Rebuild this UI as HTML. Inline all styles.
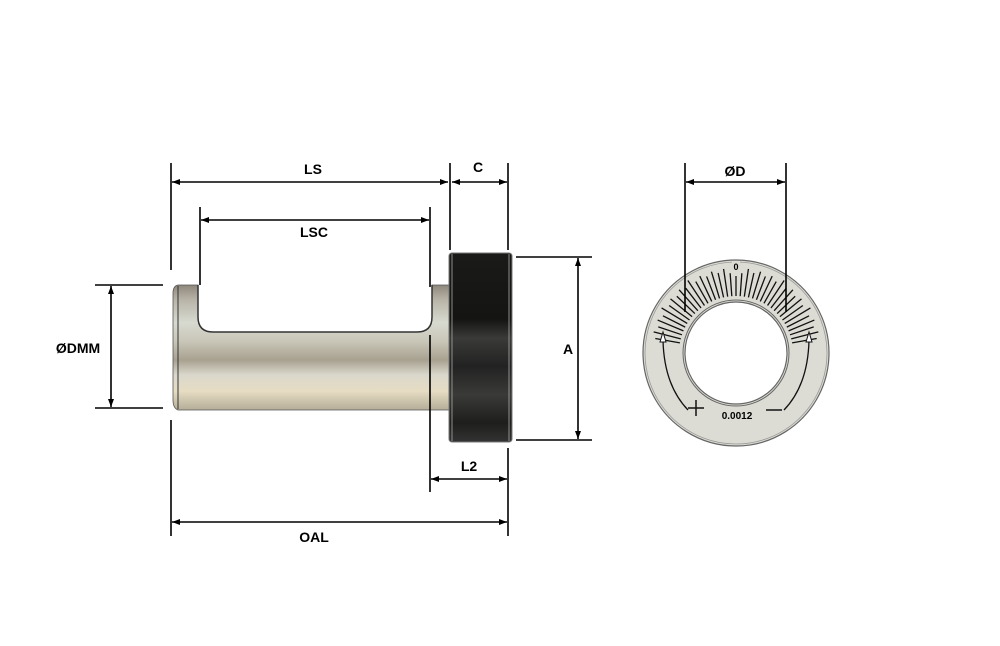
<!DOCTYPE html>
<html><head><style>html,body{margin:0;padding:0;background:#fff}svg{display:block}</style></head><body>
<svg width="1000" height="646" viewBox="0 0 1000 646" xmlns="http://www.w3.org/2000/svg" font-family="Liberation Sans, Arial, sans-serif">
<defs>
<linearGradient id="steel" x1="0" y1="0" x2="0" y2="1">
<stop offset="0" stop-color="#8d877c"/><stop offset="0.12" stop-color="#b9b4a8"/><stop offset="0.3" stop-color="#d7dad0"/><stop offset="0.45" stop-color="#c9c6b8"/><stop offset="0.6" stop-color="#a8a190"/><stop offset="0.72" stop-color="#dad8cc"/><stop offset="0.85" stop-color="#e6dcc3"/><stop offset="1" stop-color="#b5ad98"/>
</linearGradient>
<linearGradient id="knob" x1="0" y1="0" x2="0" y2="1">
<stop offset="0" stop-color="#1a1a18"/><stop offset="0.35" stop-color="#141412"/><stop offset="0.45" stop-color="#3a3a38"/><stop offset="0.6" stop-color="#222"/><stop offset="0.75" stop-color="#3a3a38"/><stop offset="0.9" stop-color="#1e1e1c"/><stop offset="1" stop-color="#333"/>
</linearGradient>
<marker id="a" markerWidth="8" markerHeight="6" refX="8" refY="3" orient="auto-start-reverse" markerUnits="userSpaceOnUse"><path d="M0,0 L8,3 L0,6 z" fill="#000"/></marker>
</defs>
<!-- shaft -->
<path d="M178,285 L198,285 L198,317 Q198,332 213,332 L417,332 Q432,332 432,317 L432,285 L449,285 L449,410 L178,410 Q173,408 173,400 L173,293 Q173,286 178,285 z" fill="url(#steel)" stroke="#555" stroke-width="0.8"/>
<line x1="178" y1="286" x2="178" y2="409" stroke="#333" stroke-width="1"/>
<path d="M198,285 L198,317 Q198,332 213,332 L417,332 Q432,332 432,317 L432,285" fill="none" stroke="#333" stroke-width="1.5"/>
<!-- knob -->
<rect x="449" y="253" width="63" height="189" rx="3" fill="url(#knob)" stroke="#777" stroke-width="1"/>
<line x1="452" y1="254" x2="452" y2="441" stroke="#aaa" stroke-width="0.8"/>
<line x1="509" y1="254" x2="509" y2="441" stroke="#aaa" stroke-width="0.8"/>
<!-- dial ring -->
<path d="M736,260 a93,93 0 1,0 0.01,0 z M736,302 a51,51 0 1,1 -0.01,0 z" fill="#dcdcd4" fill-rule="evenodd" stroke="#666" stroke-width="1.2"/>
<circle cx="736" cy="353" r="91" fill="none" stroke="#999" stroke-width="0.8"/>
<circle cx="736" cy="353" r="53" fill="none" stroke="#666" stroke-width="1"/>
<g stroke="#111" stroke-width="1.3">
<line x1="736" y1="296" x2="736" y2="271" transform="rotate(-79.8 736 353)"/>
<line x1="736" y1="296" x2="736" y2="268" transform="rotate(-75.6 736 353)"/>
<line x1="736" y1="296" x2="736" y2="271" transform="rotate(-71.4 736 353)"/>
<line x1="736" y1="296" x2="736" y2="268" transform="rotate(-67.2 736 353)"/>
<line x1="736" y1="296" x2="736" y2="271" transform="rotate(-63 736 353)"/>
<line x1="736" y1="296" x2="736" y2="266" transform="rotate(-58.8 736 353)"/>
<line x1="736" y1="296" x2="736" y2="271" transform="rotate(-54.6 736 353)"/>
<line x1="736" y1="296" x2="736" y2="268" transform="rotate(-50.4 736 353)"/>
<line x1="736" y1="296" x2="736" y2="271" transform="rotate(-46.2 736 353)"/>
<line x1="736" y1="296" x2="736" y2="268" transform="rotate(-42 736 353)"/>
<line x1="736" y1="296" x2="736" y2="271" transform="rotate(-37.8 736 353)"/>
<line x1="736" y1="296" x2="736" y2="266" transform="rotate(-33.6 736 353)"/>
<line x1="736" y1="296" x2="736" y2="271" transform="rotate(-29.4 736 353)"/>
<line x1="736" y1="296" x2="736" y2="268" transform="rotate(-25.2 736 353)"/>
<line x1="736" y1="296" x2="736" y2="271" transform="rotate(-21 736 353)"/>
<line x1="736" y1="296" x2="736" y2="268" transform="rotate(-16.8 736 353)"/>
<line x1="736" y1="296" x2="736" y2="271" transform="rotate(-12.6 736 353)"/>
<line x1="736" y1="296" x2="736" y2="268" transform="rotate(-8.4 736 353)"/>
<line x1="736" y1="296" x2="736" y2="273" transform="rotate(-4.2 736 353)"/>
<line x1="736" y1="296" x2="736" y2="276"/>
<line x1="736" y1="296" x2="736" y2="273" transform="rotate(4.2 736 353)"/>
<line x1="736" y1="296" x2="736" y2="268" transform="rotate(8.4 736 353)"/>
<line x1="736" y1="296" x2="736" y2="271" transform="rotate(12.6 736 353)"/>
<line x1="736" y1="296" x2="736" y2="268" transform="rotate(16.8 736 353)"/>
<line x1="736" y1="296" x2="736" y2="271" transform="rotate(21 736 353)"/>
<line x1="736" y1="296" x2="736" y2="268" transform="rotate(25.2 736 353)"/>
<line x1="736" y1="296" x2="736" y2="271" transform="rotate(29.4 736 353)"/>
<line x1="736" y1="296" x2="736" y2="266" transform="rotate(33.6 736 353)"/>
<line x1="736" y1="296" x2="736" y2="271" transform="rotate(37.8 736 353)"/>
<line x1="736" y1="296" x2="736" y2="268" transform="rotate(42 736 353)"/>
<line x1="736" y1="296" x2="736" y2="271" transform="rotate(46.2 736 353)"/>
<line x1="736" y1="296" x2="736" y2="268" transform="rotate(50.4 736 353)"/>
<line x1="736" y1="296" x2="736" y2="271" transform="rotate(54.6 736 353)"/>
<line x1="736" y1="296" x2="736" y2="266" transform="rotate(58.8 736 353)"/>
<line x1="736" y1="296" x2="736" y2="271" transform="rotate(63 736 353)"/>
<line x1="736" y1="296" x2="736" y2="268" transform="rotate(67.2 736 353)"/>
<line x1="736" y1="296" x2="736" y2="271" transform="rotate(71.4 736 353)"/>
<line x1="736" y1="296" x2="736" y2="268" transform="rotate(75.6 736 353)"/>
<line x1="736" y1="296" x2="736" y2="271" transform="rotate(79.8 736 353)"/>
</g>
<path d="M688,410 Q664,385 663,340" fill="none" stroke="#111" stroke-width="1.3"/>
<path d="M660,342 L663,332 L666,342 z" fill="#fff" stroke="#111"/>
<path d="M784,410 Q808,385 809,340" fill="none" stroke="#111" stroke-width="1.3"/>
<path d="M806,342 L809,332 L812,342 z" fill="#fff" stroke="#111"/>
<path d="M688,408 h16 M696,400 v16 M766,410 h16" stroke="#111" stroke-width="1.5"/>
<text x="737" y="419" font-size="10" font-weight="bold" text-anchor="middle">0.0012</text>
<rect x="732" y="261" width="8" height="10" fill="#dcdcd4"/>
<text x="736" y="270" font-size="9" font-weight="bold" text-anchor="middle">0</text>
<g stroke="#000" stroke-width="1.6" fill="none">
<line x1="171" y1="163" x2="171" y2="270"/><line x1="171" y1="420" x2="171" y2="536"/>
<line x1="200" y1="207" x2="200" y2="285"/><line x1="430" y1="207" x2="430" y2="287"/>
<line x1="450" y1="163" x2="450" y2="250"/><line x1="508" y1="163" x2="508" y2="250"/>
<line x1="430" y1="335" x2="430" y2="492"/><line x1="508" y1="448" x2="508" y2="536"/>
<line x1="95" y1="285" x2="163" y2="285"/><line x1="95" y1="408" x2="163" y2="408"/>
<line x1="516" y1="257" x2="592" y2="257"/><line x1="516" y1="440" x2="592" y2="440"/>
<line x1="685" y1="163" x2="685" y2="312"/><line x1="786" y1="163" x2="786" y2="312"/>
</g>
<g stroke="#000" stroke-width="1.6" marker-start="url(#a)" marker-end="url(#a)">
<line x1="172" y1="182" x2="448" y2="182"/>
<line x1="452" y1="182" x2="507" y2="182"/>
<line x1="201" y1="220" x2="429" y2="220"/>
<line x1="111" y1="286" x2="111" y2="407"/>
<line x1="578" y1="258" x2="578" y2="439"/>
<line x1="431" y1="479" x2="507" y2="479"/>
<line x1="172" y1="522" x2="507" y2="522"/>
<line x1="686" y1="182" x2="785" y2="182"/>
</g>
<g font-size="14" font-weight="bold" text-anchor="middle" fill="#000">
<text x="313" y="174">LS</text><text x="478" y="172">C</text>
<text x="314" y="237">LSC</text><text x="78" y="353">ØDMM</text>
<text x="568" y="354">A</text><text x="469" y="471">L2</text>
<text x="314" y="542">OAL</text><text x="735" y="176">ØD</text>
</g>
</svg>
</body></html>
